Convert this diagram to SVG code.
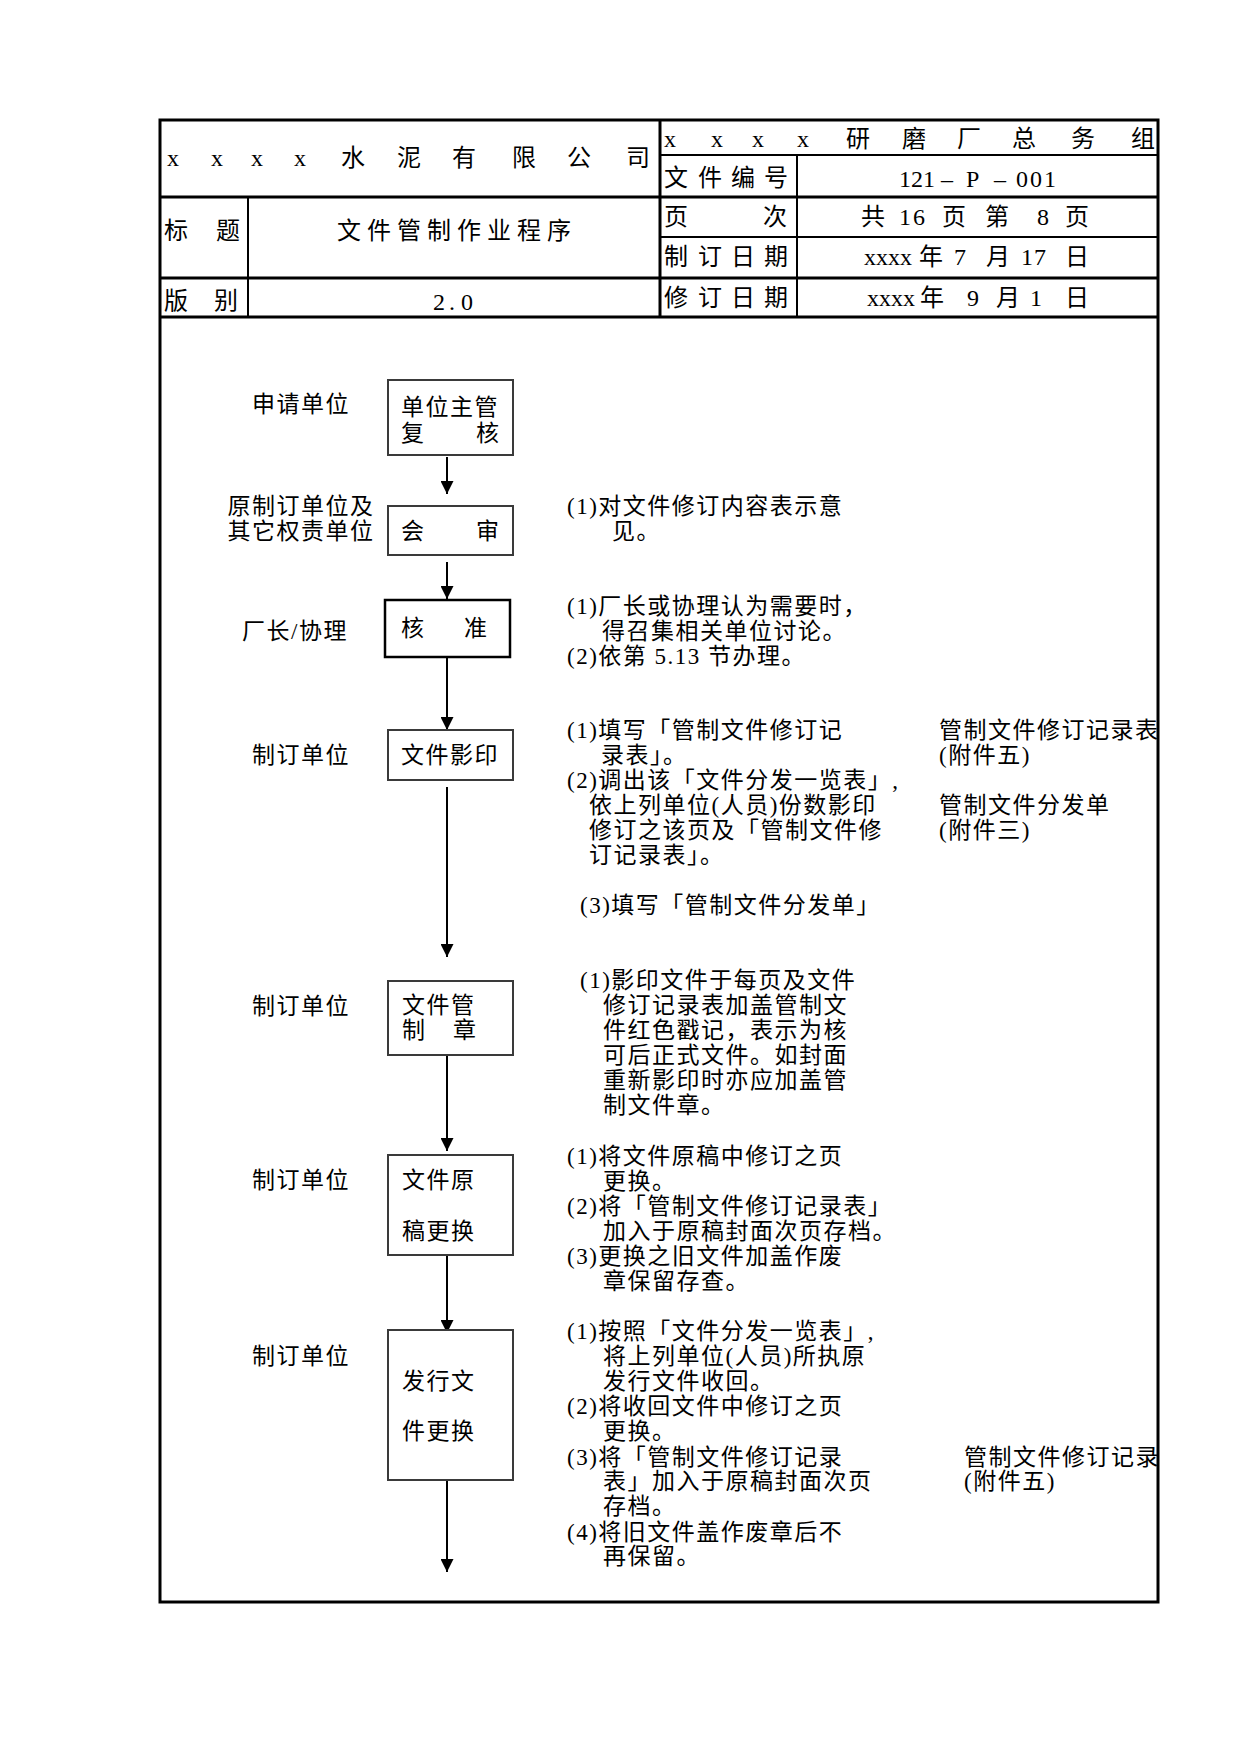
<svg xmlns="http://www.w3.org/2000/svg" width="1241" height="1754" viewBox="0 0 1241 1754">
<style>
  text { font-family: "Liberation Serif", "Noto Sans CJK SC", serif; fill: #000; }
  .h { font-size: 24px; }
  .t { font-size: 23px; letter-spacing: 1.5px; }
  .c { text-anchor: middle; }
  .thick { stroke: #000; stroke-width: 3; fill: none; }
  .thin { stroke: #000; stroke-width: 2; fill: none; }
  .box { fill: #fff; stroke: #3a3a3a; stroke-width: 2; }
  .boxk { fill: #fff; stroke: #000; stroke-width: 2.5; }
  .conn { stroke: #000; stroke-width: 2; fill: none; marker-end: url(#ah); }
</style>
<defs>
  <marker id="ah" markerUnits="userSpaceOnUse" markerWidth="13" markerHeight="13" refX="13" refY="6.5" orient="auto">
    <path d="M0,0 L13,6.5 L0,13 z" fill="#000"/>
  </marker>
  <clipPath id="inner"><rect x="160" y="118" width="997" height="1486"/></clipPath>
</defs>
<rect x="0" y="0" width="1241" height="1754" fill="#fff"/>

<g id="header">
  <line class="thick" x1="160" y1="197" x2="1158" y2="197"/>
  <line class="thick" x1="160" y1="278" x2="1158" y2="278"/>
  <line class="thick" x1="160" y1="317" x2="1158" y2="317"/>
  <line class="thin" x1="660" y1="155" x2="1158" y2="155"/>
  <line class="thin" x1="660" y1="237" x2="1158" y2="237"/>
  <line class="thick" x1="660" y1="120" x2="660" y2="317"/>
  <line class="thin" x1="248" y1="197" x2="248" y2="317"/>
  <line class="thin" x1="797" y1="155" x2="797" y2="317"/>

  <text class="h" x="167 211 251 294 341 397 452 512 567 626" y="166">xxxx水泥有限公司</text>
  <text class="h" x="664 711 752 797 846 902 957 1012 1071 1131" y="147">xxxx研磨厂总务组</text>
  <text class="h" x="664 698 731 764" y="186">文件编号</text>
  <text class="h" x="899 911 923 941 966 994 1016 1030 1044" y="187">121–P–001</text>
  <text class="h" x="664 763" y="225">页次</text>
  <text class="h" x="861 899 913 942 985 1037 1065" y="225">共16页第8页</text>
  <text class="h" x="664 698 731 764" y="265">制订日期</text>
  <text class="h" x="864 876 888 900 919 954 986 1021 1034 1065" y="265">xxxx年7月17日</text>
  <text class="h" x="664 698 731 764" y="306">修订日期</text>
  <text class="h" x="867 879 891 903 920 967 996 1030 1065" y="306">xxxx年9月1日</text>
  <text class="h" x="164 216" y="239">标题</text>
  <text class="h" x="337 367 397 427 457 487 517 547" y="239">文件管制作业程序</text>
  <text class="h" x="164 214" y="309">版别</text>
  <text class="h" x="433 449 461" y="310">2.0</text>
</g>

<g id="lanes">
  <text class="t c" x="301" y="412">申请单位</text>
  <text class="t c" x="301" y="514">原制订单位及</text>
  <text class="t c" x="301" y="539">其它权责单位</text>
  <text class="t c" x="295" y="639">厂长/协理</text>
  <text class="t c" x="301" y="763">制订单位</text>
  <text class="t c" x="301" y="1014">制订单位</text>
  <text class="t c" x="301" y="1188">制订单位</text>
  <text class="t c" x="301" y="1364">制订单位</text>
</g>

<g id="connectors">
  <line class="conn" x1="447" y1="457" x2="447" y2="494"/>
  <line class="conn" x1="447" y1="562" x2="447" y2="599"/>
  <line class="conn" x1="447" y1="657" x2="447" y2="730"/>
  <line class="conn" x1="447" y1="787" x2="447" y2="957"/>
  <line class="conn" x1="447" y1="1055" x2="447" y2="1151"/>
  <line class="conn" x1="447" y1="1255" x2="447" y2="1333"/>
  <line class="conn" x1="447" y1="1480" x2="447" y2="1572"/>
</g>

<g id="n1">
  <rect class="box" x="388" y="380" width="125" height="75"/>
  <text class="t" x="401" y="415">单位主管</text>
  <text class="t" x="401 476" y="441">复核</text>
</g>
<g id="n2">
  <rect class="box" x="388" y="506" width="125" height="49"/>
  <text class="t" x="401 476" y="539">会审</text>
</g>
<g id="n3">
  <rect class="boxk" x="385" y="600" width="125" height="57"/>
  <text class="t" x="401 464" y="636">核准</text>
</g>
<g id="n4">
  <rect class="box" x="388" y="730" width="125" height="50"/>
  <text class="t" x="401" y="763">文件影印</text>
</g>
<g id="n5">
  <rect class="box" x="388" y="981" width="125" height="74"/>
  <text class="t" x="402" y="1013">文件管</text>
  <text class="t" x="402 453" y="1038">制章</text>
</g>
<g id="n6">
  <rect class="box" x="388" y="1155" width="125" height="100"/>
  <text class="t" x="402" y="1188">文件原</text>
  <text class="t" x="402" y="1239">稿更换</text>
</g>
<g id="n7">
  <rect class="box" x="388" y="1330" width="125" height="150"/>
  <text class="t" x="402" y="1389">发行文</text>
  <text class="t" x="402" y="1439">件更换</text>
</g>

<g id="notes" clip-path="url(#inner)">
  <text class="t" x="567" y="514">(1)对文件修订内容表示意</text>
  <text class="t" x="612" y="539">见。</text>

  <text class="t" x="567" y="614">(1)厂长或协理认为需要时，</text>
  <text class="t" x="602" y="639">得召集相关单位讨论。</text>
  <text class="t" x="567" y="664">(2)依第 5.13 节办理。</text>

  <text class="t" x="567" y="738">(1)填写「管制文件修订记</text>
  <text class="t" x="601" y="763">录表」。</text>
  <text class="t" x="567" y="788">(2)调出该「文件分发一览表」,</text>
  <text class="t" x="589" y="813">依上列单位(人员)份数影印</text>
  <text class="t" x="589" y="838">修订之该页及「管制文件修</text>
  <text class="t" x="589" y="863">订记录表」。</text>
  <text class="t" x="580" y="913">(3)填写「管制文件分发单」</text>
  <text class="t" x="939" y="738">管制文件修订记录表</text>
  <text class="t" x="939" y="763">(附件五)</text>
  <text class="t" x="939" y="813">管制文件分发单</text>
  <text class="t" x="939" y="838">(附件三)</text>

  <text class="t" x="580" y="988">(1)影印文件于每页及文件</text>
  <text class="t" x="603" y="1013">修订记录表加盖管制文</text>
  <text class="t" x="603" y="1038">件红色戳记，表示为核</text>
  <text class="t" x="603" y="1063">可后正式文件。如封面</text>
  <text class="t" x="603" y="1088">重新影印时亦应加盖管</text>
  <text class="t" x="603" y="1113">制文件章。</text>

  <text class="t" x="567" y="1164">(1)将文件原稿中修订之页</text>
  <text class="t" x="603" y="1189">更换。</text>
  <text class="t" x="567" y="1214">(2)将「管制文件修订记录表」</text>
  <text class="t" x="603" y="1239">加入于原稿封面次页存档。</text>
  <text class="t" x="567" y="1264">(3)更换之旧文件加盖作废</text>
  <text class="t" x="603" y="1289">章保留存查。</text>

  <text class="t" x="567" y="1339">(1)按照「文件分发一览表」,</text>
  <text class="t" x="603" y="1364">将上列单位(人员)所执原</text>
  <text class="t" x="603" y="1389">发行文件收回。</text>
  <text class="t" x="567" y="1414">(2)将收回文件中修订之页</text>
  <text class="t" x="603" y="1439">更换。</text>
  <text class="t" x="567" y="1465">(3)将「管制文件修订记录</text>
  <text class="t" x="603" y="1489">表」加入于原稿封面次页</text>
  <text class="t" x="603" y="1514">存档。</text>
  <text class="t" x="567" y="1540">(4)将旧文件盖作废章后不</text>
  <text class="t" x="603" y="1564">再保留。</text>
  <text class="t" x="964" y="1465">管制文件修订记录</text>
  <text class="t" x="964" y="1489">(附件五)</text>
</g>

<rect id="frame" class="thick" x="160" y="120" width="998" height="1482"/>
</svg>
